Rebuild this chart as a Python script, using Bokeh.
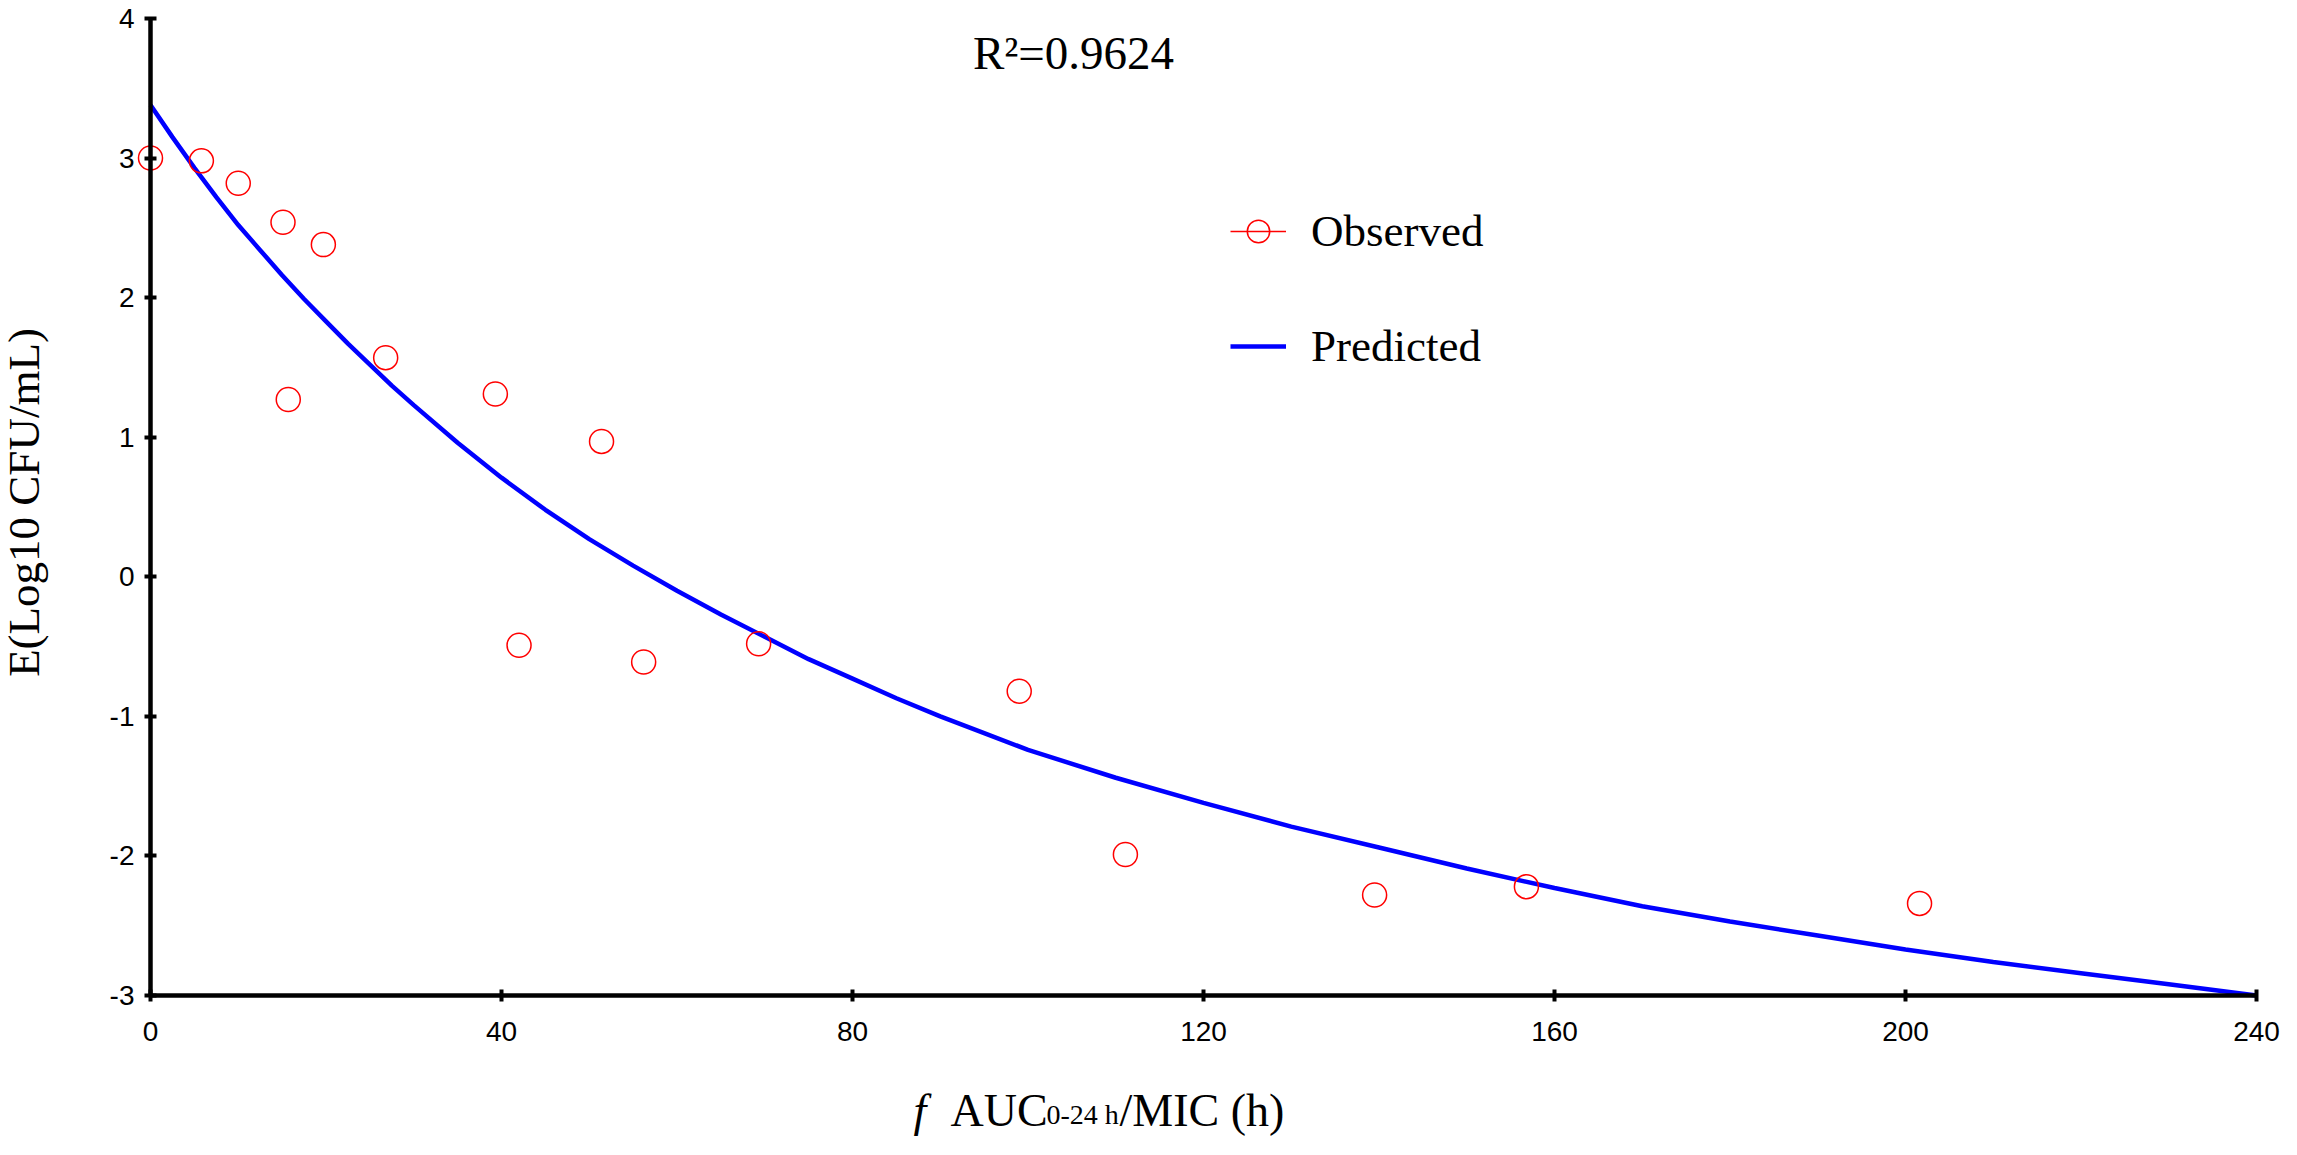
import math
from bokeh.plotting import figure
from bokeh.models import Range1d, FixedTicker, Label, Legend, LegendItem
from bokeh.embed import file_html
from bokeh.resources import INLINE

# ---- data ----
obs_x = [0, 5.8, 10.0, 15.1, 19.7, 15.7, 26.8, 39.3, 51.4, 42.0, 56.2, 69.3, 99.0, 111.1, 139.5, 156.8, 201.6]
obs_y = [3.0, 2.98, 2.82, 2.54, 2.38, 1.27, 1.57, 1.31, 0.97, -0.49, -0.61, -0.48, -0.82, -1.99, -2.28, -2.22, -2.34]

pred_x = [0, 2.5, 5, 7.5, 10, 12.5, 15, 17.5, 20, 22.5, 25, 27.5, 30, 35, 40, 45, 50, 55, 60, 65, 70,
          75, 80, 85, 90, 95, 100, 110, 120, 130, 140, 150, 160, 170, 180, 190, 200, 210, 220, 230, 240]
pred_y = [3.38, 3.15, 2.93, 2.72, 2.52, 2.34, 2.16, 1.99, 1.83, 1.67, 1.52, 1.37, 1.23, 0.96, 0.71,
          0.48, 0.27, 0.08, -0.10, -0.27, -0.43, -0.59, -0.73, -0.87, -1.00, -1.12, -1.24, -1.44,
          -1.62, -1.79, -1.94, -2.09, -2.23, -2.36, -2.47, -2.57, -2.67, -2.76, -2.84, -2.92, -3.00]

x_ticks = [0, 40, 80, 120, 160, 200, 240]
y_ticks = [-3, -2, -1, 0, 1, 2, 3, 4]

r2_text = "R\u00b2=0.9624"
y_title = "E(Log10 CFU/mL)"
legend_labels = ["Observed", "Predicted"]

# ---- layout (pixels) ----
W, H = 2281, 1139
X0PX, X240PX = 150, 2256
Y4PX, YM3PX = 18, 995
PPX = (X240PX - X0PX) / 240.0
PPY = (YM3PX - Y4PX) / 7.0
BASE_SHIFT = 0.41  # em: offset of Bokeh's alphabetic anchor vs. glyph baseline


def dx(px):
    return (px - X0PX) / PPX


def dy(py):
    return 4 - (py - Y4PX) / PPY


p = figure(width=W, height=H,
           x_range=Range1d(-X0PX / PPX, (W - X0PX) / PPX),
           y_range=Range1d(-3 - (H - YM3PX) / PPY, 4 + Y4PX / PPY),
           output_backend="svg", toolbar_location=None,
           min_border=0, min_border_left=0, min_border_right=0,
           min_border_top=0, min_border_bottom=0)
p.outline_line_color = None
p.xgrid.visible = False
p.ygrid.visible = False
p.background_fill_color = "white"
p.border_fill_color = "white"

for ax in (p.xaxis[0], p.yaxis[0]):
    ax.axis_line_width = 4.5
    ax.axis_line_color = "black"
    ax.major_tick_line_width = 4
    ax.major_tick_line_color = "black"
    ax.major_tick_in = 6
    ax.major_tick_out = 6
    ax.minor_tick_in = 0
    ax.minor_tick_out = 0
    ax.minor_tick_line_color = None
    ax.major_label_text_font = "Liberation Sans"
    ax.major_label_text_font_size = "28px"
    ax.major_label_text_color = "black"

p.xaxis.ticker = FixedTicker(ticks=x_ticks)
p.yaxis.ticker = FixedTicker(ticks=y_ticks)
p.yaxis.major_label_overrides = {t: str(t) for t in y_ticks}
p.xaxis.major_label_overrides = {t: str(t) for t in x_ticks}
p.xaxis.bounds = (0, 240)
p.yaxis.bounds = (-3, 4)
p.yaxis.fixed_location = 0
p.xaxis.fixed_location = -3
p.yaxis.major_label_standoff = 10
p.xaxis.major_label_standoff = 20

r_pred = p.line(pred_x, pred_y, line_color="#0000FF", line_width=4.5)
r_obs = p.scatter(obs_x, obs_y, marker="circle", size=24, fill_color=None,
                  line_color="#FF0000", line_width=1.5)
# zero-length line (legend glyph only) for the red line through the legend marker
r_leg = p.line(obs_x[:1] * 2, obs_y[:1] * 2, line_color="#FF0000", line_width=1.5)

legend = Legend(items=[LegendItem(label=legend_labels[0], renderers=[r_leg, r_obs]),
                       LegendItem(label=legend_labels[1], renderers=[r_pred])],
                location=(1230, 763), orientation="vertical", spacing=55,
                glyph_width=56, glyph_height=60, label_height=60, label_standoff=25,
                padding=10, border_line_color=None, background_fill_alpha=0,
                label_text_font="Liberation Serif", label_text_font_size="45px",
                label_text_color="black")
p.add_layout(legend)

serif = "Liberation Serif"


def text_label(px, py, text, size, **kw):
    """Place text so that its glyph baseline lands at pixel (px, py)."""
    shift = BASE_SHIFT * size
    angle = kw.pop("angle", 0)
    if angle:
        px = px - shift
    else:
        py = py - shift
    return Label(x=dx(px), y=dy(py), text=text, text_font=serif, text_font_size=f"{size}px",
                 text_baseline="alphabetic", text_color="black", angle=angle, **kw)


p.add_layout(text_label(1073, 72, r2_text, 47, text_align="center"))
p.add_layout(text_label(42, 502, y_title, 45, angle=math.pi / 2, text_align="center"))

p.add_layout(text_label(913, 1129, "f", 46, text_font_style="italic", text_align="left"))
p.add_layout(text_label(950, 1129, "AUC", 46, text_align="left"))
p.add_layout(text_label(1046, 1125, "0-24 h", 28, text_align="left"))
p.add_layout(text_label(1119, 1129, "/MIC (h)", 46, text_align="left"))

open("out.html", "w").write(file_html(p, INLINE))
